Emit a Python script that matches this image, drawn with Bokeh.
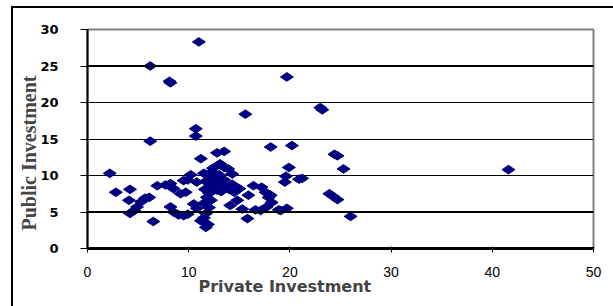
import math
from bokeh.plotting import figure
from bokeh.models import Range1d, FixedTicker, Title, Span
from bokeh.embed import file_html
from bokeh.resources import INLINE

private_investment = [
    11.0, 6.2, 8.2, 8.1, 19.7, 23.0, 23.2, 15.6, 10.7, 10.7,
    6.2, 18.1, 20.2, 24.4, 24.7, 12.8, 13.5, 11.2, 25.3, 41.6,
    21.2, 23.9, 24.3, 24.7, 26.0, 19.9, 19.6, 19.5, 20.9, 19.1,
    19.7, 18.9, 2.2, 2.8, 4.2, 4.1, 4.2, 4.9, 5.3, 5.7,
    6.1, 6.5, 4.6, 6.9, 7.7, 8.2, 8.5, 8.2, 8.5, 9.0,
    9.5, 9.9, 9.2, 9.7, 9.5, 10.2, 9.9, 10.8, 10.5, 10.8,
    11.2, 11.7, 11.9, 11.5, 11.9, 12.3, 12.6, 11.7, 12.1, 12.5,
    12.9, 13.3, 11.6, 12.0, 12.4, 12.8, 13.2, 13.6, 11.8, 12.2,
    11.5, 12.0, 11.7, 11.5, 12.3, 13.0, 13.5, 14.0, 14.5, 13.1,
    13.5, 13.9, 14.3, 12.4, 15.0, 14.1, 14.8, 15.3, 15.9, 15.8,
    16.4, 17.2, 17.6, 17.9, 18.2, 17.7, 17.1, 16.6, 18.1, 14.3,
]
public_investment = [
    28.3, 25.0, 22.7, 22.9, 23.5, 19.3, 19.0, 18.4, 16.4, 15.4,
    14.7, 13.9, 14.1, 12.9, 12.7, 13.1, 13.3, 12.3, 10.9, 10.8,
    9.6, 7.5, 7.1, 6.7, 4.4, 11.1, 9.9, 9.1, 9.5, 5.2,
    5.5, 5.3, 10.3, 7.7, 8.1, 6.6, 4.8, 5.7, 6.4, 6.9,
    7.0, 3.7, 5.2, 8.6, 8.7, 8.9, 8.2, 5.7, 5.0, 4.6,
    4.5, 4.7, 7.5, 7.7, 9.3, 10.1, 9.4, 9.1, 6.1, 5.5,
    3.8, 2.9, 3.3, 10.3, 10.0, 10.5, 9.8, 9.2, 8.8, 8.5,
    9.1, 8.7, 8.1, 7.6, 7.9, 8.0, 7.8, 8.3, 7.0, 6.6,
    6.2, 5.6, 4.8, 4.2, 9.4, 10.1, 9.4, 8.1, 7.7, 11.6,
    11.1, 10.9, 10.2, 11.0, 8.2, 5.9, 6.6, 5.4, 7.3, 4.1,
    8.6, 8.4, 7.7, 7.0, 6.3, 5.7, 5.2, 5.3, 7.3, 8.8,
]
x_ticks = [0, 10, 20, 30, 40, 50]
y_ticks = [0, 5, 10, 15, 20, 25, 30]
grid_ticks = [5, 10, 15, 20, 25]
heavy_grid = [5, 25]

p = figure(width=613, height=306, output_backend="svg", toolbar_location=None,
           x_range=Range1d(0, 50), y_range=Range1d(0, 30),
           min_border_left=87, min_border_right=20, min_border_top=29, min_border_bottom=58)
p.styles = {"box-shadow": "inset 11px 6px 0 0 white, inset 13px 8px 0 0 black"}

p.outline_line_color = "#808080"
p.outline_line_width = 2
p.background_fill_color = "white"
p.border_fill_alpha = 0

p.xgrid.visible = False
p.ygrid.ticker = FixedTicker(ticks=grid_ticks)
p.ygrid.grid_line_color = "black"
p.ygrid.grid_line_width = 1
for v in heavy_grid:
    p.add_layout(Span(location=v, dimension="width", line_color="black", line_width=2))

p.scatter(private_investment, public_investment, marker="diamond", size=13,
          angle=math.pi / 2, color="#000080", line_color="#000080")

p.xaxis.ticker = FixedTicker(ticks=x_ticks)
p.yaxis.ticker = FixedTicker(ticks=y_ticks)
p.xaxis.minor_tick_line_color = None
p.yaxis.minor_tick_line_color = None
p.xaxis.axis_line_width = 3
p.yaxis.axis_line_width = 2
p.xaxis.axis_line_color = "black"
p.yaxis.axis_line_color = "black"
p.xaxis.major_tick_out = 4
p.xaxis.major_tick_in = 2
p.yaxis.major_tick_out = 7
p.yaxis.major_tick_in = 0
p.xaxis.major_tick_line_width = 1
p.yaxis.major_tick_line_width = 1
p.xaxis.major_label_standoff = 14
p.yaxis.major_label_standoff = 22
p.xaxis.major_label_text_font = "Liberation Sans"
p.yaxis.major_label_text_font = "DejaVu Sans"
p.xaxis.major_label_text_font_size = "14px"
p.yaxis.major_label_text_font_size = "13px"
p.yaxis.major_label_text_font_style = "bold"
p.xaxis.major_label_text_color = "black"
p.yaxis.major_label_text_color = "black"

p.add_layout(Title(text="Private Investment", align="left", offset=111,
                   text_font="DejaVu Sans", text_font_size="16px",
                   text_font_style="bold", standoff=-10), "below")
p.add_layout(Title(text="Public Investment", align="left", offset=18,
                   text_font="Liberation Serif", text_font_size="20px",
                   text_font_style="bold", standoff=-5), "left")

open("out.html", "w").write(file_html(p, INLINE))
